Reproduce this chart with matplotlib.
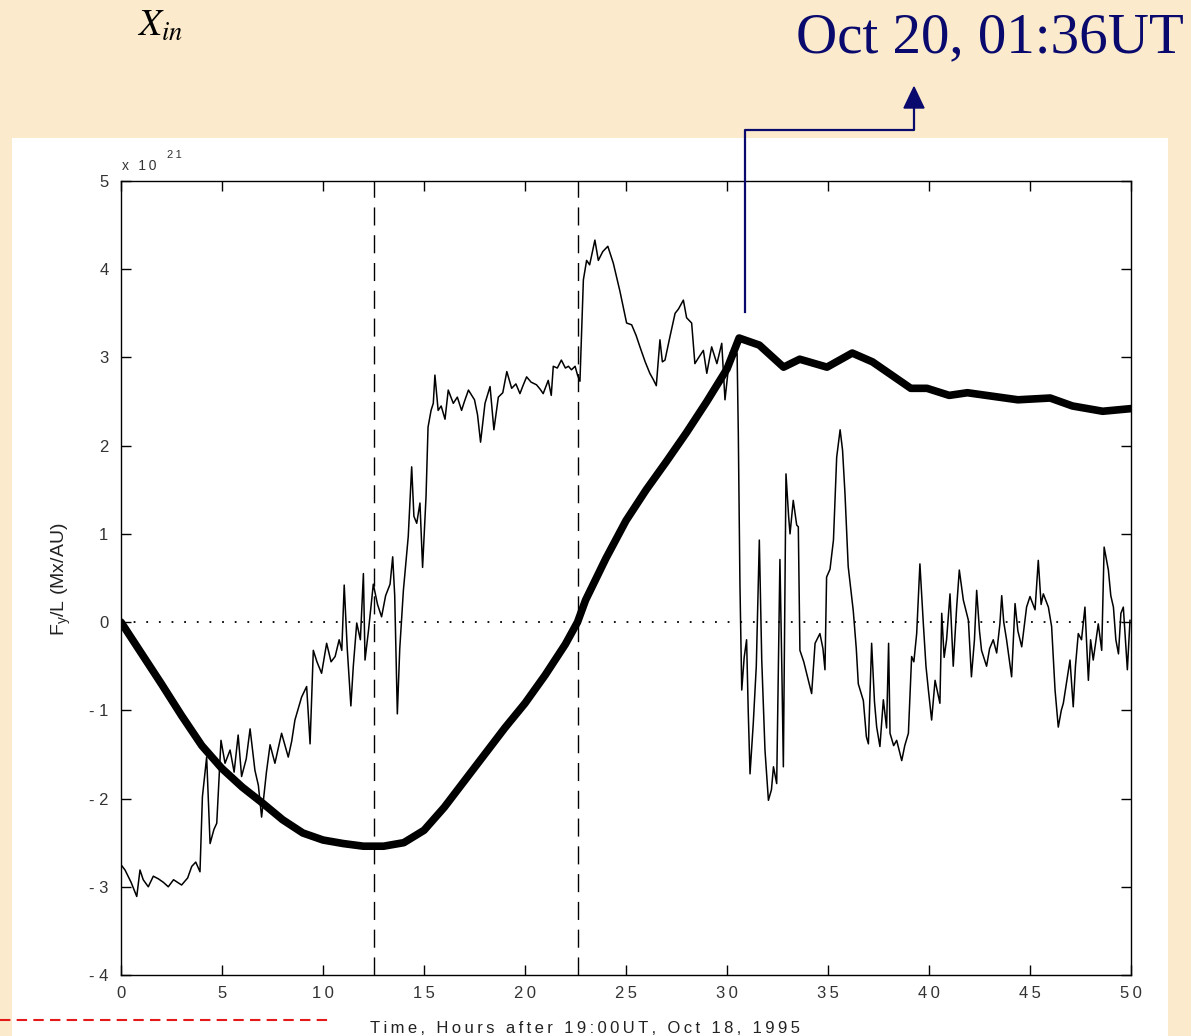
import matplotlib
matplotlib.use("Agg")
from matplotlib import pyplot as plt
from matplotlib.lines import Line2D
from matplotlib.patches import Rectangle, Polygon

# measured field, hours after 19:00UT Oct 18 (units of 1e21 Mx/AU)
t_obs = [0.0, 0.2, 0.5, 0.78, 0.94, 1.1, 1.35, 1.6, 1.85, 2.1, 2.34, 2.6, 3.0, 3.3,
         3.5, 3.7, 3.91, 4.03, 4.24, 4.41, 4.6, 4.74, 4.95, 5.15, 5.4, 5.6, 5.8, 5.97,
         6.2, 6.39, 6.63, 6.8, 6.96, 7.2, 7.38, 7.62, 7.95, 8.28, 8.45, 8.61, 8.94,
         9.19, 9.36, 9.52, 9.7, 9.93, 10.18, 10.4, 10.6, 10.8, 10.93, 11.05, 11.2,
         11.38, 11.5, 11.67, 11.85, 12.0, 12.08, 12.25, 12.49, 12.7, 12.9, 13.1, 13.32,
         13.45, 13.55, 13.68, 13.8, 13.98, 14.22, 14.39, 14.5, 14.64, 14.8, 14.93, 15.1,
         15.2, 15.35, 15.46, 15.54, 15.7, 15.85, 16.04, 16.2, 16.45, 16.65, 16.86, 17.0,
         17.2, 17.5, 17.65, 17.8, 18.02, 18.27, 18.46, 18.68, 18.9, 19.1, 19.34, 19.55,
         19.75, 19.9, 20.08, 20.3, 20.57, 20.75, 20.9, 21.15, 21.3, 21.4, 21.6, 21.8,
         22.0, 22.15, 22.3, 22.48, 22.6, 22.72, 22.89, 23.05, 23.2, 23.46, 23.63, 23.85,
         24.1, 24.37, 24.7, 25.03, 25.28, 25.5, 25.69, 25.95, 26.18, 26.35, 26.5, 26.68,
         26.8, 26.93, 27.18, 27.43, 27.6, 27.84, 28.0, 28.25, 28.41, 28.6, 28.83, 29.0,
         29.24, 29.5, 29.74, 29.9, 30.15, 30.4, 30.5, 30.56, 30.64, 30.73, 30.85, 30.97,
         31.05, 31.14, 31.3, 31.45, 31.6, 31.72, 31.88, 32.05, 32.2, 32.3, 32.46, 32.62,
         32.72, 32.79, 32.92, 33.05, 33.12, 33.28, 33.45, 33.53, 33.61, 33.8, 33.94,
         34.19, 34.36, 34.6, 34.75, 34.85, 34.93, 35.1, 35.27, 35.43, 35.6, 35.72, 35.84,
         36.0, 36.25, 36.4, 36.5, 36.75, 36.9, 37.0, 37.16, 37.3, 37.41, 37.57, 37.74,
         37.9, 38.0, 38.07, 38.25, 38.4, 38.65, 38.8, 38.98, 39.14, 39.25, 39.39, 39.55,
         39.72, 39.85, 39.97, 40.13, 40.3, 40.54, 40.63, 40.75, 40.87, 41.04, 41.2,
         41.37, 41.5, 41.7, 41.95, 42.1, 42.25, 42.36, 42.5, 42.6, 42.85, 43.0, 43.18,
         43.35, 43.51, 43.6, 43.7, 43.84, 44.09, 44.26, 44.4, 44.59, 44.83, 45.0, 45.25,
         45.41, 45.55, 45.66, 45.91, 46.07, 46.24, 46.4, 46.55, 46.65, 46.8, 46.98,
         47.14, 47.25, 47.39, 47.55, 47.72, 47.89, 48.0, 48.13, 48.38, 48.55, 48.67,
         48.88, 49.0, 49.13, 49.25, 49.38, 49.5, 49.62, 49.82, 49.95]
f_obs = [-2.75, -2.81, -2.95, -3.11, -2.81, -2.92, -3.0, -2.88, -2.91, -2.95, -3.0, -2.92,
         -2.98, -2.9, -2.77, -2.72, -2.83, -1.98, -1.53, -2.51, -2.35, -2.28, -1.34, -1.6,
         -1.45, -1.7, -1.28, -1.75, -1.55, -1.21, -1.68, -1.85, -2.21, -1.7, -1.39, -1.6,
         -1.26, -1.53, -1.35, -1.11, -0.85, -0.73, -1.38, -0.32, -0.45, -0.58, -0.24,
         -0.45, -0.39, -0.2, -0.32, 0.42, -0.3, -0.95, -0.5, -0.01, -0.2, 0.55, -0.43,
         -0.1, 0.43, 0.2, 0.06, 0.3, 0.43, 0.74, 0.3, -1.04, -0.3, 0.36, 0.97, 1.76, 1.2,
         1.12, 1.35, 0.62, 1.42, 2.21, 2.4, 2.48, 2.8, 2.4, 2.45, 2.3, 2.63, 2.48, 2.55,
         2.4, 2.5, 2.63, 2.52, 2.35, 2.04, 2.48, 2.67, 2.18, 2.55, 2.6, 2.84, 2.65, 2.7,
         2.59, 2.68, 2.78, 2.72, 2.69, 2.64, 2.59, 2.74, 2.57, 2.9, 2.88, 2.97, 2.88, 2.9,
         2.86, 2.9, 2.8, 2.73, 3.88, 4.1, 4.05, 4.33, 4.1, 4.2, 4.26, 4.07, 3.75, 3.39,
         3.37, 3.25, 3.12, 2.95, 2.82, 2.75, 2.68, 3.2, 2.95, 2.97, 3.24, 3.5, 3.55, 3.65,
         3.45, 3.39, 2.93, 3.0, 3.08, 2.82, 3.12, 2.93, 3.16, 2.52, 3.05, 3.01, 3.05,
         2.14, 0.44, -0.77, -0.4, -0.2, -1.0, -1.72, -1.15, -0.5, 0.93, -0.43, -1.45,
         -2.02, -1.9, -1.64, -1.83, 0.71, -0.6, -1.64, 1.68, 1.2, 1.0, 1.38, 1.1, 1.08,
         -0.32, -0.45, -0.58, -0.81, -0.24, -0.13, -0.3, -0.54, 0.51, 0.6, 0.93, 1.87,
         2.18, 1.95, 1.46, 0.63, 0.13, -0.3, -0.7, -0.89, -1.3, -1.38, -0.24, -0.9,
         -1.19, -1.41, -0.88, -1.2, -0.24, -1.26, -1.4, -1.34, -1.57, -1.4, -1.26, -0.39,
         -0.45, -0.13, 0.66, -0.02, -0.5, -0.77, -1.11, -0.66, -0.92, 0.1, -0.4, -0.2,
         0.32, -0.5, 0.17, 0.59, 0.25, 0.02, -0.62, -0.2, 0.36, -0.1, -0.32, -0.5, -0.3,
         -0.2, -0.35, -0.02, 0.3, 0.0, -0.2, -0.62, 0.21, -0.1, -0.28, 0.17, 0.29, 0.14,
         0.7, 0.2, 0.32, 0.17, -0.05, -0.77, -1.19, -1.0, -0.92, -0.7, -0.43, -0.96,
         -0.5, -0.13, -0.2, 0.17, -0.66, -0.2, -0.43, -0.02, -0.32, 0.85, 0.59, 0.3,
         0.17, -0.2, -0.36, 0.1, 0.17, -0.54, 0.02]

# model curve (thick line)
t_model = [0, 1, 2, 3, 4, 5, 6, 7, 8, 9, 10, 11, 12, 13, 14, 15, 16, 17, 18, 19, 20,
           21, 22, 22.6, 23, 24, 25, 26, 27, 28, 29, 30, 30.6, 31.6, 32.8, 33.6, 34.95,
           36.2, 37.2, 39.1, 39.9, 41.0, 41.9, 44.4, 46.0, 47.1, 48.6, 50]
f_model = [0, -0.35, -0.7, -1.06, -1.4, -1.66, -1.87, -2.05, -2.24, -2.39, -2.47,
           -2.51, -2.54, -2.54, -2.5, -2.36, -2.1, -1.8, -1.5, -1.2, -0.92, -0.6, -0.25,
           0.0, 0.25, 0.72, 1.15, 1.5, 1.82, 2.15, 2.5, 2.87, 3.22, 3.14, 2.89, 2.98, 2.89,
           3.05, 2.95, 2.65, 2.65, 2.57, 2.6, 2.52, 2.54, 2.45, 2.39, 2.42]

event_times = [12.5, 22.6]
x_ticks = [0, 5, 10, 15, 20, 25, 30, 35, 40, 45, 50]
y_ticks = [-4, -3, -2, -1, 0, 1, 2, 3, 4, 5]

W, H = 1191, 1036
SP = "\u2009"


def spaced(s):
    return SP.join(s)


def fx(px):
    return px / W


def fy(py):
    return 1 - py / H


navy = "#0A0A6E"
sans = ["Liberation Sans", "DejaVu Sans"]

fig = plt.figure(figsize=(W / 100, H / 100), dpi=100, facecolor="#FBEBCC")

# white panel behind the plot
fig.add_artist(Rectangle((fx(12), 0), fx(1168) - fx(12), fy(138), transform=fig.transFigure,
                         facecolor="white", edgecolor="none", zorder=0))

ax = fig.add_axes([fx(121), fy(975), fx(1131) - fx(121), fy(181) - fy(975)])
ax.set_facecolor("white")

ax.plot(t_obs, f_obs, color="black", lw=1.1, zorder=3)
ax.plot(t_model, f_model, color="black", lw=5.5, solid_capstyle="round",
        solid_joinstyle="round", zorder=4)
for te in event_times:
    ax.axvline(te, color="black", lw=1.0, linestyle=(0, (13, 7)), zorder=2)
ax.axhline(0, color="black", lw=1.3, linestyle=(0, (1, 6)), zorder=2)

ax.set_xlim(0, 50)
ax.set_ylim(-4, 5)
ax.set_xticks(x_ticks)
ax.set_xticklabels([spaced(str(v)) for v in x_ticks], family=sans, fontsize=12, color="#333333")
ax.set_yticks(y_ticks)
ax.set_yticklabels([("- " + str(-v)) if v < 0 else str(v) for v in y_ticks],
                   family=sans, fontsize=12, color="#333333")
ax.tick_params(direction="in", length=7, width=1, top=True, right=True)
ax.tick_params(axis="x", pad=8)
ax.tick_params(axis="y", pad=9)
for s in ax.spines.values():
    s.set_linewidth(1.0)

fig.text(fx(585), fy(1033), spaced("Time, Hours after 19:00UT, Oct 18, 1995"), family=sans,
         fontsize=12, color="#222222", ha="center", va="baseline")
fig.text(fx(61), fy(579), r"F$_\mathregular{y}$/L (Mx/AU)", rotation=90, ha="center",
         va="center", family=sans, fontsize=14, color="#222222")

# exponent label
fig.text(fx(122), fy(170), spaced("x 10"), family=sans, fontsize=10, color="#333333")
fig.text(fx(167), fy(158), spaced("21"), family=sans, fontsize=8, color="#333333")

# slide annotations
fig.text(fx(137), fy(36), r"$X_{in}$", math_fontfamily="stix", fontsize=27, color="black")
fig.text(fx(1184), fy(52), "Oct 20, 01:36UT", family=["Liberation Serif", "DejaVu Serif"],
         fontsize=41, color=navy, ha="right", va="baseline")
fig.add_artist(Line2D([fx(745), fx(745), fx(914), fx(914)], [fy(312), fy(130), fy(130), fy(108)],
                      transform=fig.transFigure, color=navy, lw=1.6))
fig.add_artist(Polygon([[fx(904), fy(108)], [fx(924), fy(108)], [fx(914), fy(87)]],
                       closed=True, transform=fig.transFigure, facecolor=navy, edgecolor=navy))
fig.add_artist(Line2D([fx(0), fx(328)], [fy(1020), fy(1020)], transform=fig.transFigure,
                      color="#E3191A", lw=1.5, linestyle=(0, (5, 3))))

fig.savefig("out.png", dpi=100, facecolor=fig.get_facecolor())
